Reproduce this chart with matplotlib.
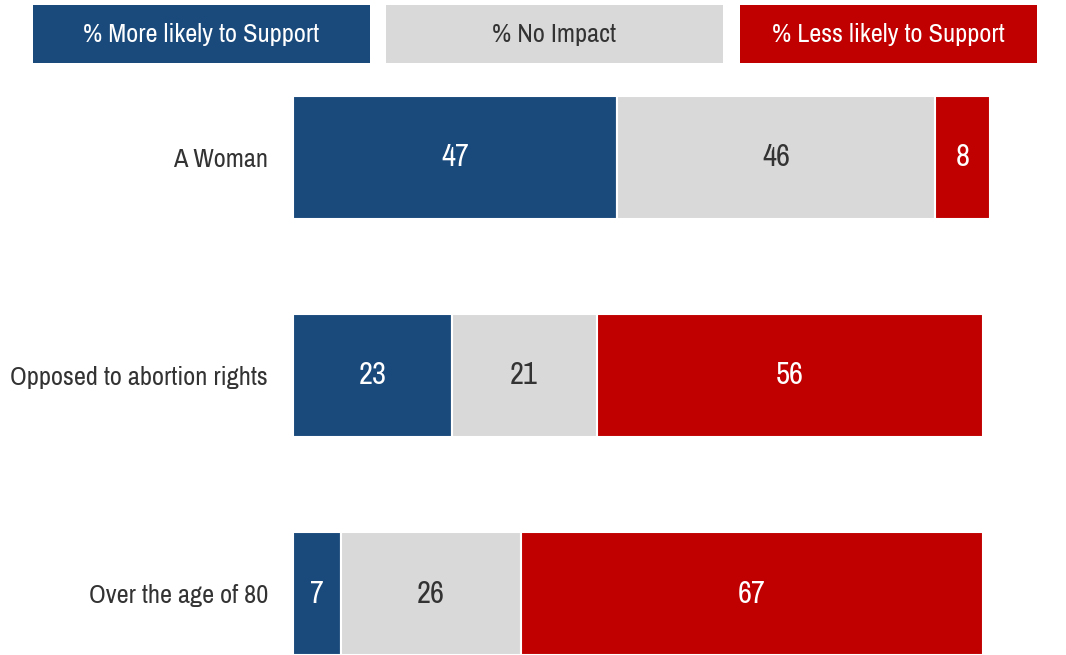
import matplotlib.pyplot as plt
from matplotlib.patches import Rectangle

plt.rcParams['font.family'] = ['Archivo Narrow', 'DejaVu Sans']

categorias = ["A Woman", "Opposed to abortion rights", "Over the age of 80"]
mais_provavel = [47, 23, 7]
sem_impacto = [46, 21, 26]
menos_provavel = [8, 56, 67]

series = ["% More likely to Support", "% No Impact", "% Less likely to Support"]
cores = ["#1A4A7C", "#D9D9D9", "#C00000"]
cores_texto = ["white", "#333333", "white"]

W, H = 1066, 655
fig = plt.figure(figsize=(W / 100, H / 100), dpi=100)

ax = fig.add_axes([293 / W, 0, 697 / W, 559 / H])

altura = 0.564
y = list(range(len(categorias)))
esquerda = [0] * len(categorias)
for valores, cor, cor_txt in zip([mais_provavel, sem_impacto, menos_provavel], cores, cores_texto):
    barras = ax.barh(y, valores, left=esquerda, height=altura, color=cor,
                     edgecolor="white", linewidth=1.5)
    for b, v in zip(barras, valores):
        ax.text(b.get_x() + b.get_width() / 2, b.get_y() + b.get_height() / 2,
                str(v), ha="center", va="center", fontsize=22, color=cor_txt)
    esquerda = [e + v for e, v in zip(esquerda, valores)]

ax.set_xlim(0, 101)
ax.set_ylim(2 + altura / 2, -altura / 2)
ax.set_yticks(y)
ax.set_yticklabels(categorias, fontsize=19, color="#333333")
ax.tick_params(axis="y", length=0, pad=18)
ax.set_xticks([])
for s in ax.spines.values():
    s.set_visible(False)

# legenda em caixas no topo
caixas = [(33, 370), (386, 723), (740, 1037)]
for (x0, x1), nome, cor, cor_txt in zip(caixas, series, cores, cores_texto):
    fig.patches.append(Rectangle((x0 / W, 1 - 63 / H), (x1 - x0) / W, 58 / H,
                                 transform=fig.transFigure, facecolor=cor,
                                 edgecolor="none"))
    fig.text((x0 + x1) / 2 / W, 1 - 35 / H, nome, ha="center", va="center",
             fontsize=19, color=cor_txt)

plt.savefig("out.png", dpi=100)
